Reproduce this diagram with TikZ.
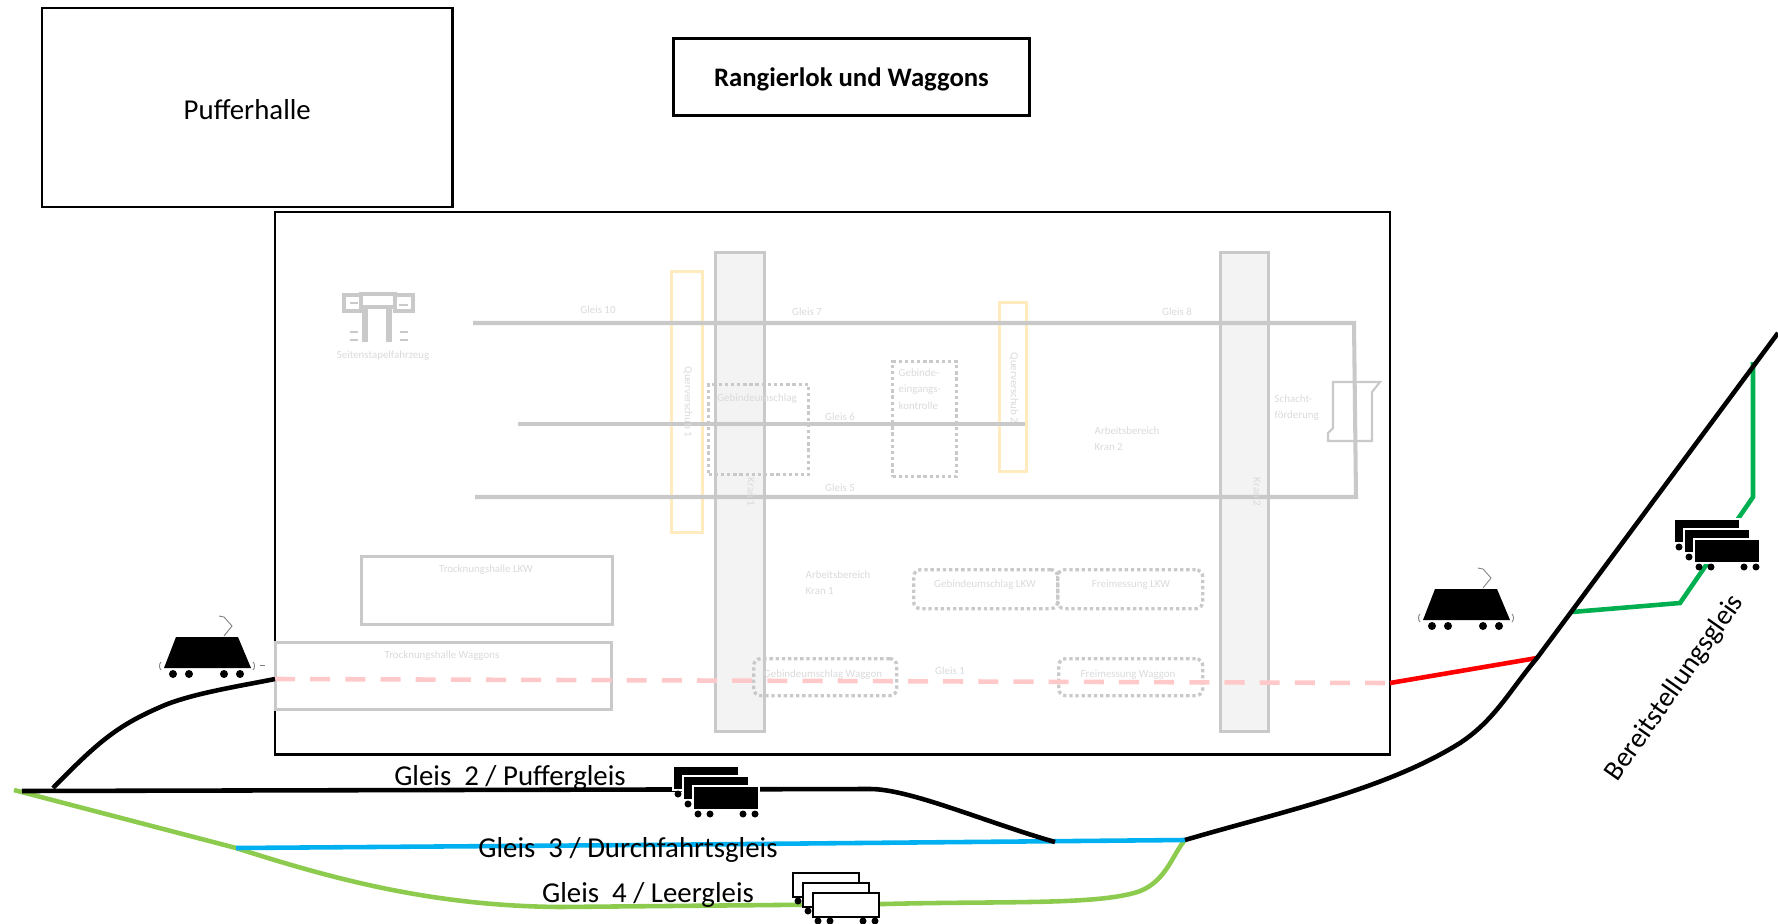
\documentclass[tikz,border=0pt]{standalone}
\usepackage{fontspec}
\setmainfont{Carlito}
\usepackage{xcolor}
\usetikzlibrary{positioning}

\definecolor{blassgrau}{HTML}{C9C9C9}
\definecolor{blasstext}{HTML}{DADADA}
\definecolor{blassgelb}{HTML}{FFEBBE}
\definecolor{blassrot}{HTML}{FFC9C9}
\definecolor{kranfill}{HTML}{F3F3F3}
\definecolor{leergruen}{HTML}{8CCB4E}
\definecolor{stellgruen}{HTML}{00B050}
\definecolor{fahrtblau}{HTML}{00B0F0}

\begin{document}
\begin{tikzpicture}[
  x=0.01cm, y=-0.01cm,
  font=\fontsize{8.2}{10}\selectfont,
  rahmen/.style={draw, line width=0.65pt, inner sep=0pt, anchor=north west},
  halle/.style={draw=blassgrau, line width=0.75pt, inner sep=0pt, anchor=north west},
  kran/.style={halle, fill=kranfill, minimum width=0.49cm, minimum height=4.79cm},
  quer/.style={draw=blassgelb, line width=0.8pt, inner sep=0pt, anchor=north west},
  zone/.style={draw=blassgrau, line width=0.95pt, dash pattern=on 0.95pt off 0.8pt, rounded corners=2pt, inner sep=0pt, anchor=north west},
  blass/.style={text=blasstext, font=\fontsize{3.1}{4.5}\selectfont, inner sep=0pt},
  blassl/.style={blass, align=left, anchor=north west},
  hgleis/.style={draw=blassgrau, line width=1.15pt},
  gleis/.style={line width=1.3pt},
  gross/.style={inner sep=0pt},
  pics/wagen/.style args={#1/#2}{code={
    \draw[fill=#1, draw=#2, line width=0.5pt] (0,0) rectangle (66,24);
    \fill[black] (5,28) circle (3.5) (17,28) circle (3.5) (50,28) circle (3.5) (62,28) circle (3.5);
  }},
  pics/waggons/.style args={#1/#2}{code={
    \pic at (0,0) {wagen=#1/#2};
    \pic at (10,10) {wagen=#1/#2};
    \pic at (20,20) {wagen=#1/#2};
  }},
  pics/lok/.style={code={
    \fill[black] (12,-29) -- (74,-29) -- (87,2) -- (0,2) -- cycle;
    \fill[black] (9,8) circle (4) (25,8) circle (4) (60,8) circle (4) (76,8) circle (4);
    \draw[gray, line width=0.25pt] (60,-30) -- (68,-40) -- (60,-49) -- (55,-50);
    \draw[gray, line width=0.25pt] (-3,-4) .. controls (-5,-2) and (-5,2) .. (-3,4);
    \draw[gray, line width=0.25pt] (89,-4) .. controls (91,-2) and (91,2) .. (89,4);
  }}]

\useasboundingbox (0,0) rectangle (1778,924);

% Boxes above the plant
\node[rahmen, minimum width=4.10cm, minimum height=1.99cm] (pufferhalle) at (41,7) {};
\node[gross] (pufferlabel) at ([yshift=-0.02cm]pufferhalle.center) {Pufferhalle};
\node[rahmen, line width=0.75pt, minimum width=3.56cm, minimum height=0.77cm] (rangierlok) at (672,37) {};
\node[gross, font=\fontsize{7.6}{9}\selectfont\bfseries] (ranglabel) at ([yshift=-0.03cm]rangierlok.center) {Rangierlok und Waggons};

% Plant, faded
\node[rahmen, minimum width=11.14cm, minimum height=5.42cm] (werk) at (274,211) {};
\node[quer, minimum width=0.31cm, minimum height=2.61cm] (quer1) at (670,270) {};
\node[quer, minimum width=0.27cm, minimum height=1.69cm] (quer2) at (998,301) {};
\node[kran, minimum width=0.49cm] (kran1) at (714,251) {};
\node[kran, minimum width=0.48cm] (kran2) at (1219,251) {};
\node[halle, minimum width=2.51cm, minimum height=0.68cm] (trockLKW) at (360,555) {};
\node[halle, minimum width=3.36cm, minimum height=0.67cm] (trockWag) at (274,641) {};

\node[zone, sharp corners, minimum width=1.00cm, minimum height=0.90cm] (umschlag) at (707,383) {};
\node[zone, sharp corners, minimum width=0.64cm, minimum height=1.15cm] (eingang) at (891,360) {};
\node[zone, minimum width=1.44cm, minimum height=0.39cm] (umschlagLKW) at (912,568) {};
\node[zone, minimum width=1.45cm, minimum height=0.39cm] (freiLKW) at (1056,568) {};
\node[zone, minimum width=1.43cm, minimum height=0.37cm] (umschlagWag) at (752,657) {};
\node[zone, minimum width=1.44cm, minimum height=0.37cm] (freiWag) at (1057,657) {};

% Faded tracks
\coordinate (g7a) at (473,323);
\coordinate (g7b) at (1354,323);
\coordinate (g5b) at (1356,497);
\coordinate (g5a) at (475,497);
\coordinate (g6a) at (518,424);
\coordinate (g6b) at (1025,424);
\draw[hgleis] (g7a) -- (g7b) -- (g5b) -- (g5a);
\draw[hgleis] (g6a) -- (g6b);

% Shaft
\draw[draw=blassgrau, line width=0.6pt] (1333,382) -- (1380,382) -- (1372,392) -- (1372,441) -- (1328,441) -- (1328,433) -- (1333,428) -- cycle;

% Side loader
\draw[draw=blassgrau, line width=1.1pt] (344,295) rectangle (361,311);
\draw[draw=blassgrau, line width=1.1pt] (395,295) rectangle (413,311);
\draw[draw=blassgrau, line width=1.1pt] (361,294) rectangle (395,307);
\draw[draw=blassgrau, line width=1.5pt] (365,307) -- (365,342);
\draw[draw=blassgrau, line width=1.5pt] (389,307) -- (389,342);
\draw[draw=blassgrau, line width=0.6pt] (350,303) -- (358,303) (399,305) -- (408,305);
\draw[draw=blassgrau, line width=0.7pt] (350,332) -- (358,332) (350,340) -- (358,340) (400,332) -- (408,332) (400,340) -- (408,340);

% Faded labels
\node[blass] (tseiten) at (383,356) {Seitenstapelfahrzeug};
\node[blass] (tg10) at (598,310) {Gleis 10};
\node[blass] (tg7) at (807,312) {Gleis 7};
\node[blass] (tg8) at (1177,312) {Gleis 8};
\node[blass] (tg6) at (840,417) {Gleis 6};
\node[blass] (tg5) at (840,488) {Gleis 5};
\node[blass] (tg1) at (950,671) {Gleis 1};
\node[blass, rotate=-90] (tquer1) at (688,402) {Querverschub 1};
\node[blass, rotate=-90] (tquer2) at (1014,388) {Querverschub 2};
\node[blass, rotate=-90] (tkran1) at (751,492) {Kran 1};
\node[blass, rotate=-90] (tkran2) at (1257,492) {Kran 2};
\node[blass] (tumschlag) at (757,399) {Gebindeumschlag};
\node[blassl] (teingang) at (898,368) {Gebinde-\\[0.2pt]eingangs-\\[0.2pt]kontrolle};
\node[blassl] (tschacht) at (1274,394) {Schacht-\\[0.2pt]förderung};
\node[blassl] (tarb2) at (1094,426) {Arbeitsbereich\\[0.2pt]Kran 2};
\node[blassl] (tarb1) at (805,570) {Arbeitsbereich\\[0.2pt]Kran 1};
\node[blass] (ttrockLKW) at (486,570) {Trocknungshalle LKW};
\node[blass] (ttrockWag) at (442,656) {Trocknungshalle Waggons};
\node[blass] (tuLKW) at (985,585) {Gebindeumschlag LKW};
\node[blass] (tfLKW) at (1131,585) {Freimessung LKW};
\node[blass] (tuWag) at (823,675) {Gebindeumschlag Waggon};
\node[blass] (tfWag) at (1128,675) {Freimessung Waggon};

% Outer tracks
\coordinate (werkW) at (275,679);
\coordinate (werkO) at (1390,683);
\coordinate (abzweig) at (53,788);
\coordinate (g2a) at (22,791);
\coordinate (g2m) at (870,789);
\coordinate (g3a) at (236,848);
\coordinate (g3b) at (1055,842);
\coordinate (gabel) at (1185,840);
\coordinate (lg0) at (14,790);
\coordinate (rotE) at (1537,658);
\coordinate (gruenA) at (1572,612);
\coordinate (gruenB) at (1753,362);
\coordinate (bereit) at (1778,333);

\draw[draw=blassrot, line width=1.3pt, dash pattern=on 5.7pt off 4.3pt] (werkW) -- (werkO);
\draw[red, gleis] (werkO) -- (rotE);
\draw[draw=stellgruen, gleis] (gruenA) -- (1680,603) -- (1753,497) -- (gruenB);
\draw[draw=leergruen, gleis] (lg0) -- (g3a) .. controls (330,878) and (430,906) .. (560,907) -- (884,904) .. controls (1000,901) and (1090,905) .. (1134,893) .. controls (1165,885) and (1172,855) .. (gabel);
\draw[draw=fahrtblau, gleis] (g3a) -- (640,845) -- (gabel);
\draw[gleis] (g2a) -- (g2m) .. controls (910,789) and (985,822) .. (g3b);
\draw[gleis] (abzweig) .. controls (100,740) and (118,725) .. (165,705) .. controls (195,693) and (240,686) .. (werkW);
\draw[gleis] (gabel) .. controls (1280,812) and (1385,790) .. (1460,743) .. controls (1495,720) and (1510,690) .. (rotE) -- (bereit);

% Vehicles
\pic (lok1) at (164,666) {lok};
\draw[gray, line width=0.25pt] (260,665) -- (265,665);
\pic (lok2) at (1423,618) {lok};
\pic (wag2) at (673,766) {waggons=black/white};
\pic (wag4) at (793,873) {waggons=white/black};
\pic (wagB) at (1674,519) {waggons=black/white};

% Track labels
\node[gross] (tgleis2) at (510,778) {Gleis\ \ 2 / Puffergleis};
\node[gross] (tgleis3) at (628,850) {Gleis\ \ 3 / Durchfahrtsgleis};
\node[gross] (tgleis4) at (648,895) {Gleis\ \ 4 / Leergleis};
\node[gross, rotate=55, font=\fontsize{8}{10}\selectfont] (tbereit) at (1675,688) {Bereitstellungsgleis};
\end{tikzpicture}
\end{document}
